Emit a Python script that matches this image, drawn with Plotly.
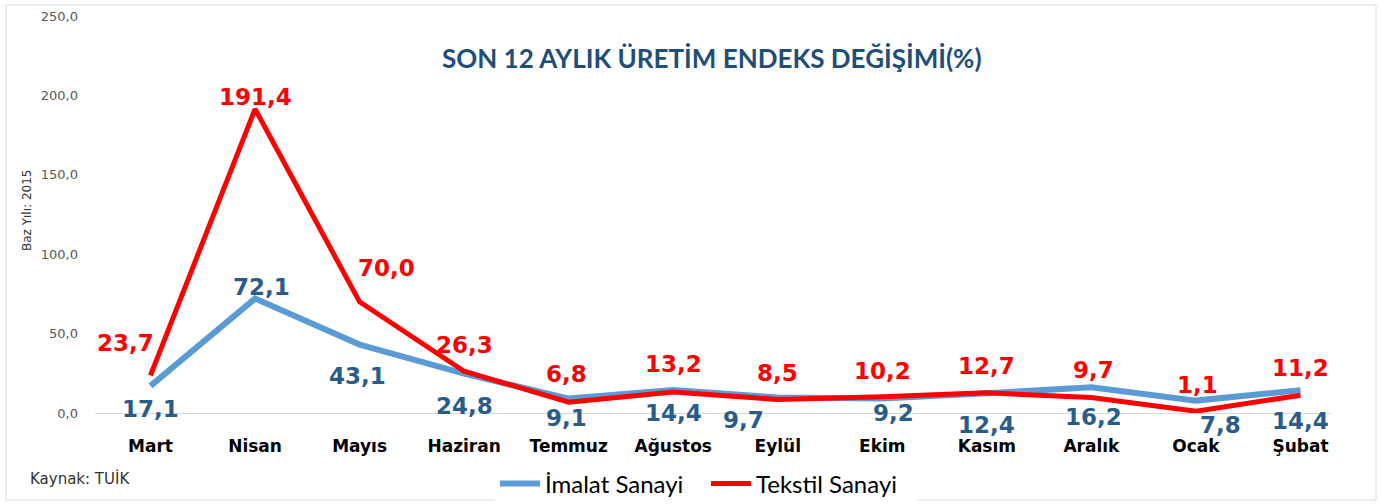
import plotly.graph_objects as go

months = ["Mart", "Nisan", "Mayıs", "Haziran", "Temmuz", "Ağustos", "Eylül",
          "Ekim", "Kasım", "Aralık", "Ocak", "Şubat"]
imalat = [17.1, 72.1, 43.1, 24.8, 9.1, 14.4, 9.7, 9.2, 12.4, 16.2, 7.8, 14.4]
tekstil = [23.7, 191.4, 70.0, 26.3, 6.8, 13.2, 8.5, 10.2, 12.7, 9.7, 1.1, 11.2]
y_ticks = [0, 50, 100, 150, 200, 250]

# label offsets (px): (xshift, yshift)
imalat_off = [(0, -23), (6, 12), (-2, -31), (0, -32), (-2, -19), (0, -23),
              (-34, -22), (11, -15), (0, -32), (2, -30), (25, -24), (0, -31)]
tekstil_off = [(-25, 32), (0, 12), (27, 34), (0, 26), (-2, 28), (0, 28),
               (0, 27), (0, 26), (0, 27), (2, 28), (2, 26), (0, 27)]

def fmt(v):
    return f"{v:.1f}".replace(".", ",")

fig = go.Figure()
fig.add_trace(go.Scatter(x=months, y=imalat, mode="lines", name="İmalat Sanayi",
                         line=dict(color="#5B9BD5", width=6)))
fig.add_trace(go.Scatter(x=months, y=tekstil, mode="lines", name="Tekstil Sanayi",
                         line=dict(color="#FF0000", width=5)))

ann = []
for m, v, (dx, dy) in zip(months, imalat, imalat_off):
    ann.append(dict(x=m, y=v, text=f"<b>{fmt(v)}</b>", showarrow=False,
                    xshift=dx, yshift=dy,
                    font=dict(size=23, color="#2A5C8A", family="DejaVu Sans")))
for m, v, (dx, dy) in zip(months, tekstil, tekstil_off):
    ann.append(dict(x=m, y=v, text=f"<b>{fmt(v)}</b>", showarrow=False,
                    xshift=dx, yshift=dy,
                    font=dict(size=23, color="#FF0000", family="DejaVu Sans")))
ann.append(dict(xref="paper", yref="paper", x=(712 - 95) / 1236, y=(413 - 58) / 397,
                text="<b>SON 12 AYLIK ÜRETİM ENDEKS DEĞİŞİMİ(%)</b>", showarrow=False,
                font=dict(size=26, color="#1F4E79", family="Lato"),
                xanchor="center", yanchor="middle"))
ann.append(dict(xref="paper", yref="paper", x=(28 - 95) / 1236, y=(413 - 479) / 397,
                text="Kaynak: TUİK", showarrow=False, xanchor="left", yanchor="middle",
                font=dict(size=15, color="#333333", family="DejaVu Sans")))
ann.append(dict(xref="paper", yref="paper", x=(27 - 95) / 1236, y=(413 - 211) / 397,
                text="Baz Yılı: 2015", showarrow=False, textangle=-90,
                xanchor="center", yanchor="middle",
                font=dict(size=12, color="#333333", family="DejaVu Sans")))

fig.update_layout(
    width=1381, height=504,
    margin=dict(l=95, r=50, t=16, b=91, autoexpand=False),
    paper_bgcolor="white", plot_bgcolor="white",
    separators=",.",
    font=dict(family="DejaVu Sans", color="#595959"),
    showlegend=True,
    legend=dict(orientation="h", xref="container", yref="container",
                x=495 / 1381, y=1 - 484 / 504,
                xanchor="left", yanchor="middle",
                entrywidth=156, entrywidthmode="pixels",
                font=dict(size=24, color="#000000", family="Lato"),
                itemwidth=40, tracegroupgap=0),
    annotations=ann,
    xaxis=dict(showgrid=False, showline=True, linecolor="#D9D9D9", linewidth=1,
               ticks="", ticklabelstandoff=18, automargin=False,
               tickfont=dict(size=17, color="#000000", family="DejaVu Sans"),
               tickprefix="<b>", ticksuffix="</b>"),
    yaxis=dict(range=[0, 250], tickvals=y_ticks, tickformat=".1f", showgrid=False,
               zeroline=False, showline=False, ticks="", ticklabelstandoff=16,
               automargin=False,
               tickfont=dict(size=13, color="#595959", family="DejaVu Sans")),
    shapes=[dict(type="rect", xref="paper", yref="paper",
                 x0=(6 - 95) / 1236, x1=(1376 - 95) / 1236,
                 y0=(413 - 500) / 397, y1=(413 - 5) / 397,
                 line=dict(color="#D9D9D9", width=1), fillcolor="rgba(0,0,0,0)", layer="below")],
)

fig.write_html("out.html")
